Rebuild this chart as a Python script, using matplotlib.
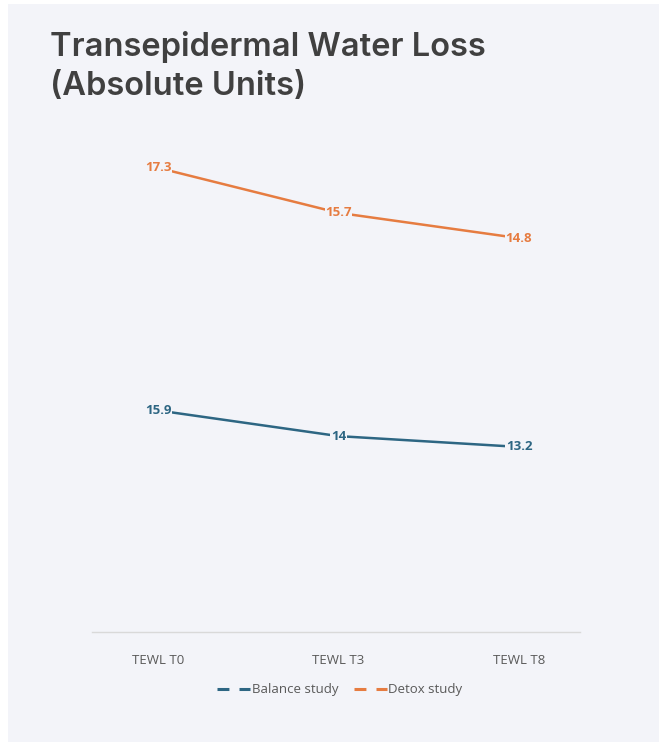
import matplotlib
matplotlib.use("Agg")
import matplotlib.pyplot as plt
from matplotlib.lines import Line2D
from matplotlib.patches import Rectangle

# chart data
categories = ["TEWL T0", "TEWL T3", "TEWL T8"]
balance_study = [15.9, 14.0, 13.2]
detox_study = [17.3, 15.7, 14.8]
balance_labels = ["15.9", "14", "13.2"]
detox_labels = ["17.3", "15.7", "14.8"]

panel_color = "#f3f4f9"
blue = "#2d6683"
orange = "#e67c41"
text_gray = "#595959"

W, H = 659, 742
fig = plt.figure(figsize=(W / 100, H / 100), dpi=100)
fig.patch.set_facecolor("white")

# light panel behind everything (small white margin top/left)
fig.patches.append(Rectangle((8 / W, 0), 1 - 8 / W, 1 - 4 / H,
                             transform=fig.transFigure, facecolor=panel_color,
                             edgecolor="none", zorder=-10))

fig.text(50 / W, 1 - 31 / H, "Transepidermal Water Loss\n(Absolute Units)",
         ha="left", va="top", fontsize=23.5, fontweight="semibold",
         family="Inter", color="#404040", linespacing=1.32)

# plot area in pixels: x 92..580, y 120..632
left, right, top, bottom = 92, 580, 120, 632
ax = fig.add_axes([left / W, 1 - bottom / H, (right - left) / W, (bottom - top) / H])
ax2 = ax.twinx()

for a in (ax, ax2):
    a.set_facecolor("none")
    for s in a.spines.values():
        s.set_visible(False)
    a.set_yticks([])

ax.spines["bottom"].set_visible(True)
ax.spines["bottom"].set_color("#d9d9d9")
ax.spines["bottom"].set_linewidth(1.0)

x = list(range(len(categories)))
ax.set_xlim(-0.366, 2.338)
ax.set_ylim(-0.5, 37.4)      # primary axis (Balance)
ax2.set_ylim(0.8, 19.0)      # secondary axis (Detox)

ax.plot(x, balance_study, color=blue, lw=1.8, solid_capstyle="round", zorder=2)
ax2.plot(x, detox_study, color=orange, lw=1.8, solid_capstyle="round", zorder=2)

for xi, v, lab in zip(x, balance_study, balance_labels):
    ax.text(xi, v, lab, ha="center", va="center", fontsize=9.5, fontweight="bold",
            family="Open Sans", color=blue, zorder=3,
            bbox=dict(boxstyle="square,pad=0.05", fc=panel_color, ec="none"))
for xi, v, lab in zip(x, detox_study, detox_labels):
    ax2.text(xi, v, lab, ha="center", va="center", fontsize=9.5, fontweight="bold",
             family="Open Sans", color=orange, zorder=3,
             bbox=dict(boxstyle="square,pad=0.05", fc=panel_color, ec="none"))

ax.set_xticks(x)
ax.set_xticklabels(categories, fontsize=9.5, color=text_gray, family="Open Sans")
ax.tick_params(axis="x", length=0, pad=16)

handles = [
    Line2D([0], [0], color=blue, lw=2.2, linestyle=(0, (3.9, 3.3))),
    Line2D([0], [0], color=orange, lw=2.2, linestyle=(0, (3.9, 3.3))),
]
fig.legend(handles, ["Balance study", "Detox study"], loc="center",
           bbox_to_anchor=(340 / W, 1 - 690 / H), ncol=2, frameon=False,
           prop={"family": "Open Sans", "size": 9.5}, labelcolor=text_gray,
           handlelength=2.5, handletextpad=0.1, columnspacing=1.2)

fig.savefig("out.png", dpi=100, facecolor=fig.get_facecolor())
